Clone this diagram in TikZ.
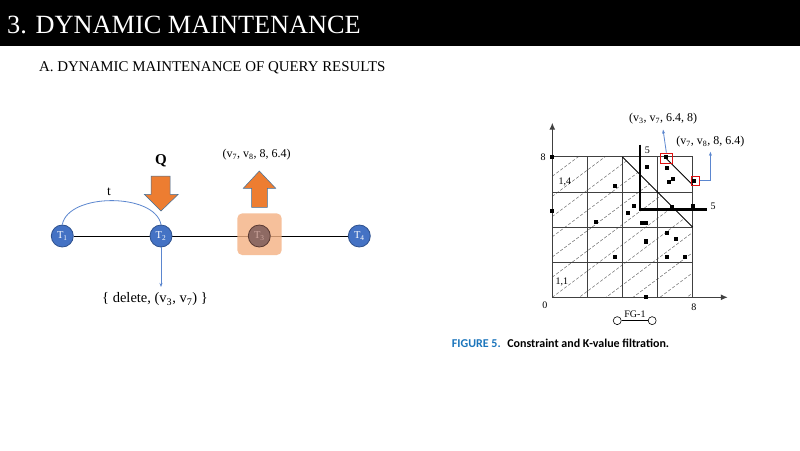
\documentclass[tikz,border=0pt]{standalone}
\usepackage{fontspec}
\setmainfont{Liberation Serif}
\newfontfamily\capfont{Carlito}
\usetikzlibrary{arrows.meta,calc}
\definecolor{tblue}{HTML}{4472C4}
\definecolor{tborder}{HTML}{2F528F}
\definecolor{borange}{HTML}{ED7D31}
\definecolor{boutline}{HTML}{41719C}
\definecolor{hlorange}{HTML}{F4B183}
\definecolor{lblue}{HTML}{5B86CF}
\definecolor{rbred}{HTML}{E01010}
\definecolor{gridc}{HTML}{404040}
\definecolor{capblue}{HTML}{1B75BC}
\definecolor{tthree}{HTML}{8E6A63}
\definecolor{tthreeb}{HTML}{5A3A33}
\definecolor{tthreet}{HTML}{CFA79F}
\pgfdeclarelayer{bg}
\pgfsetlayers{bg,main}
\tikzset{
  tnode/.style={circle, fill=tblue, draw=tborder, line width=0.8pt, minimum size=22pt, inner sep=0pt, text=white, font=\fontsize{10.5}{12}\selectfont},
  blockarrow/.style={fill=borange, draw=boutline, line width=0.5pt},
  bluecon/.style={draw=lblue, line width=0.8pt},
  bluearr/.style={draw=lblue, line width=0.8pt, -{Stealth[length=4pt,width=3pt]}},
  gridline/.style={draw=gridc, line width=0.9pt},
  hatch/.style={draw=gray!85!black, line width=0.5pt, dash pattern=on 3pt off 2pt},
  redbox/.style={draw=rbred, line width=0.9pt, inner sep=0pt},
  glabel/.style={font=\fontsize{10}{11}\selectfont, inner sep=0.5pt},
  plabel/.style={font=\fontsize{12}{13}\selectfont, inner sep=1pt},
  fgc/.style={circle, draw=black, fill=white, line width=0.6pt, minimum size=8pt, inner sep=0pt}
}
\begin{document}
\begin{tikzpicture}[x=1pt,y=-1pt]
\useasboundingbox (0,0) rectangle (800,450);
\begin{pgfonlayer}{bg}
\fill[white] (0,0) rectangle (800,450);
\end{pgfonlayer}
% header
\fill[black] (0,0) rectangle (800,45.5);
\node[anchor=base west, text=white, font=\fontsize{26.3}{30}\selectfont, inner sep=0pt] (title) at (7,33.5) {3. DYNAMIC MAINTENANCE};
\node[anchor=base west, font=\fontsize{14.9}{16}\selectfont, inner sep=0pt] (sub) at (39,71.7) {A. DYNAMIC MAINTENANCE OF QUERY RESULTS};

% ---------- left diagram ----------
\node[tnode] (T1) at (62.3,236) {T\textsubscript{1}};
\node[tnode] (T2) at (161,236) {T\textsubscript{2}};
\node[tnode] (T4) at (359.3,236) {T\textsubscript{4}};
\node[fill=hlorange, fill opacity=0.8, rounded corners=5pt, minimum width=44.4pt, minimum height=41.7pt, inner sep=0pt] (hl) at (259.5,234.2) {};
\node[tnode, fill=tthree, draw=tthreeb, text=tthreet] (T3) at (259.3,236) {T\textsubscript{3}};
\begin{pgfonlayer}{bg}
\draw[black, line width=0.8pt] (T1) -- (T2) -- (T3) -- (T4);
\end{pgfonlayer}

\draw[bluecon] (T1.north) .. controls +(6,-32) and +(-6,-32) .. (T2.north);
\node[font=\fontsize{13.5}{14}\selectfont] (tl) at (109,192) {t};

\node[font=\bfseries\fontsize{15}{16}\selectfont] (Q) at (161,161) {Q};
\draw[blockarrow] (151,176) -- (170,176) -- (170,194.3) -- (178.3,194.3) -- (161,211) -- (144.3,194.3) -- (151,194.3) -- cycle;
\draw[blockarrow] (251.7,207.3) -- (251.7,188.3) -- (243.3,188.3) -- (259.3,171) -- (275.7,188.3) -- (267.3,188.3) -- (267.3,207.3) -- cycle;
\node[plabel] (up) at (256.7,155) {(v\textsubscript{7}, v\textsubscript{8}, 8, 6.4)};

\node[font=\fontsize{14.5}{15}\selectfont, inner sep=1pt] (del) at (155,299.5) {\{ delete, (v\textsubscript{3}, v\textsubscript{7}) \}};
\draw[bluearr] (T2.south) -- (T2.south |- 0,287);

% ---------- right graph ----------
\begin{scope}[shift={(552.3,297.3)}, x=17.55pt, y=17.55pt]
  \begin{scope}
    \clip (0,0) -- (8,0) -- (8,4) -- (4,8) -- (0,8) -- cycle;
    \foreach \k in {-6,...,7} \draw[hatch] (0,{1.15*\k}) -- (8,{1.15*\k+6});
  \end{scope}
  \draw[gridline] (0,0) grid[step=2] (8,8);
  \draw[draw=gridc, line width=1.3pt, -{Latex[length=7pt,width=6pt]}] (0,0) -- (0,9.95);
  \draw[draw=gridc, line width=1.3pt, -{Latex[length=7pt,width=6pt]}] (0,0) -- (10,0);
  \draw[black, line width=0.9pt] (4,8) -- (8,4);
  \draw[black, line width=0.9pt] (6.4,8) -- (8,6.4);
  \draw[black, line width=2.6pt] (5,8.7) -- (5,5) -- (8.8,5);
  \node[glabel] (five1) at (5.42,8.39) {5};
  \node[glabel] (five2) at (9.16,5.2) {5};
  \node[glabel] (ylab) at (-0.53,7.97) {8};
  \node[glabel] (olab) at (-0.42,-0.44) {0};
  \node[glabel] (xlab) at (8.07,-0.55) {8};
  \node[glabel] (l14) at (0.72,6.57) {1,4};
  \node[glabel] (l11) at (0.55,0.87) {1,1};
  \foreach \px/\py in {0/8, 0/4.93, 5.41/7.44, 6.48/8, 6.54/7.38, 6.65/6.57, 6.86/6.72, 8.07/6.64,
      3.59/6.34, 4.66/5.2, 4.30/4.82, 6.80/5.13, 8.03/5.2, 2.49/4.31, 5.09/4.22, 5.34/4.22,
      6.52/3.68, 7.05/3.30, 5.32/3.21, 5.32/3.13, 3.59/2.28, 6.55/2.31, 7.56/2.31, 5.32/0}
    \fill[black] (\px-0.12,\py-0.12) rectangle +(0.24,0.24);
  \node[redbox, minimum width=11.3pt, minimum height=10pt] (rb1) at (6.5,7.93) {};
  \node[redbox, minimum width=8.5pt, minimum height=9pt] (rb2) at (8.15,6.64) {};
  \node[plabel] (lab1) at (6.31,10.16) {(v\textsubscript{3}, v\textsubscript{7}, 6.4, 8)};
  \node[plabel] (lab2) at (9.01,8.87) {(v\textsubscript{7}, v\textsubscript{8}, 8, 6.4)};
  \draw[bluearr] (rb1.north) -- ([yshift=-4pt]lab1.south);
  \draw[bluearr] (rb2.east) -| ([yshift=-3.5pt]lab2.south);
  \node[fgc] (fg1) at (3.70,-1.33) {};
  \node[fgc] (fg2) at (5.69,-1.33) {};
  \draw[black, line width=0.8pt] (fg1) -- (fg2);
  \node[glabel] (fgl) at (4.71,-0.97) {FG-1};
\end{scope}

\node[anchor=west, inner sep=0pt, font=\capfont\bfseries\fontsize{12}{13}\selectfont] (cap) at (451.7,343.3) {\textcolor{capblue}{FIGURE 5.}\hspace{0.55em}Constraint and K-value filtration.};
\end{tikzpicture}
\end{document}
